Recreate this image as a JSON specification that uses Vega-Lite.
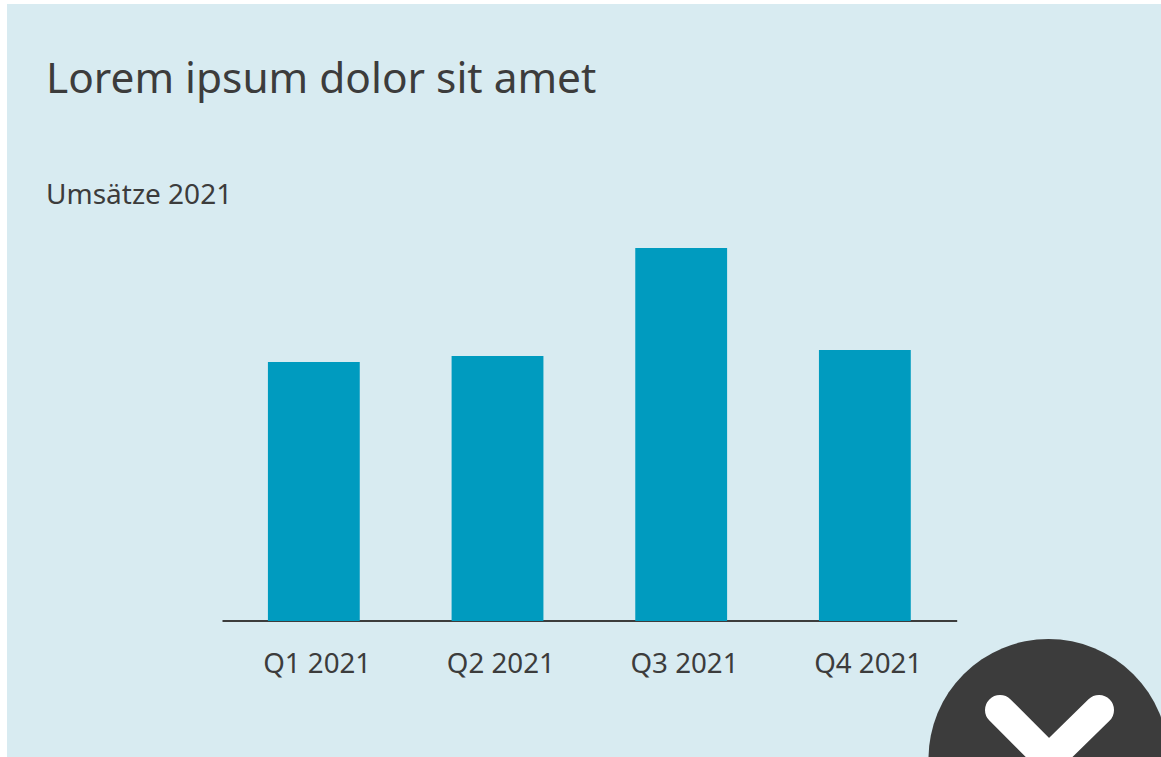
{
"$schema":"https://vega.github.io/schema/vega-lite/v6.json",
"width":1154,"height":753,
"autosize":{"type":"none"},
"padding":{"left":7,"top":4,"right":0,"bottom":0},
"background":"#ffffff",
"view":{"fill":"#d8ebf1","stroke":null},
"title":{"text":"Lorem ipsum dolor sit amet","subtitle":"Umsätze 2021","frame":"group","anchor":"start","align":"left","baseline":"alphabetic","offset":-240,"dx":39,"font":"Noto Sans","fontSize":42.4,"fontWeight":"normal","color":"#3c3c3c","subtitleFont":"Noto Sans","subtitleFontSize":28,"subtitleColor":"#3c3c3c","subtitlePadding":69},
"layer":[
{"data":{"values":[{"quarter":"Q1 2021","value":100},{"quarter":"Q2 2021","value":102.3},{"quarter":"Q3 2021","value":144},{"quarter":"Q4 2021","value":104.6}]},
"mark":{"type":"bar","fill":"#009bbf"},
"encoding":{
"x":{"field":"quarter","type":"nominal","sort":null,"scale":{"range":[215,949.7],"paddingInner":0.5,"paddingOuter":0.25},
"axis":{"title":null,"orient":"bottom","offset":-136.5,"labelAngle":0,"ticks":false,"grid":false,"domainColor":"#3c3c3c","domainWidth":2,"labelFont":"Noto Sans","labelFontSize":27.7,"labelColor":"#3c3c3c","labelPadding":30,"labelOffset":3.3}},
"y":{"field":"value","type":"quantitative","scale":{"domain":[0,150],"range":[617,228.5],"nice":false},"axis":null}}},
{"data":{"values":[{"px":1041.5,"py":755}]},
"mark":{"type":"point","filled":true,"fill":"#3c3c3c","opacity":1,"size":57600,"clip":false},
"encoding":{
"x":{"field":"px","type":"quantitative","scale":{"domain":[0,1154],"range":[0,1154],"nice":false,"zero":false},"axis":null},
"y":{"field":"py","type":"quantitative","scale":{"domain":[0,753],"range":[0,753],"nice":false,"zero":false},"axis":null}}},
{"data":{"values":[{"px":993,"py":706,"step":1},{"px":1042,"py":755,"step":2},{"px":1092,"py":706,"step":3}]},
"mark":{"type":"line","stroke":"#ffffff","strokeWidth":30,"strokeCap":"round","strokeJoin":"miter","clip":false},
"encoding":{
"order":{"field":"step","type":"quantitative"},
"x":{"field":"px","type":"quantitative","scale":{"domain":[0,1154],"range":[0,1154],"nice":false,"zero":false},"axis":null},
"y":{"field":"py","type":"quantitative","scale":{"domain":[0,753],"range":[0,753],"nice":false,"zero":false},"axis":null}}}
],
"resolve":{"scale":{"x":"independent","y":"independent"}}
}
